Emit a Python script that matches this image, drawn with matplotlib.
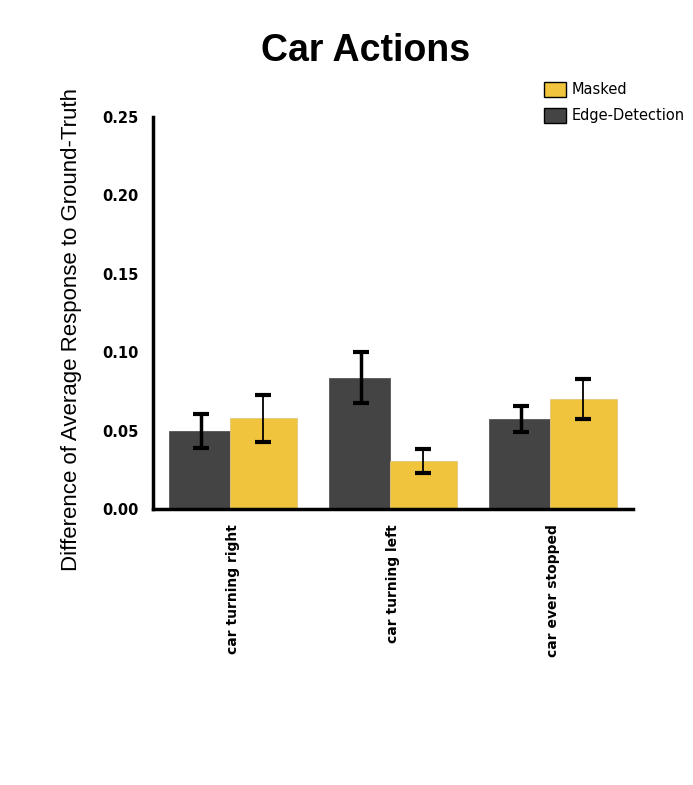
import matplotlib
matplotlib.use("Agg")
import matplotlib.pyplot as plt
from matplotlib.patches import Patch

categories = ["car turning right", "car turning left", "car ever stopped"]
edge_vals = [0.0496, 0.0838, 0.0576]
edge_err = [0.011, 0.016, 0.0083]
masked_vals = [0.058, 0.0304, 0.0702]
masked_err = [0.015, 0.0076, 0.0125]
yticks = [0.00, 0.05, 0.10, 0.15, 0.20, 0.25]

DARK = "#444444"
YELLOW = "#F0C43C"

fig = plt.figure(figsize=(6.93, 7.85), dpi=100)
ax = fig.add_axes([0.2208, 0.3516, 0.6926, 0.4994])

x = list(range(len(categories)))
ax.bar([i - 0.4 for i in x], edge_vals, width=0.38, align="edge",
       color=DARK, edgecolor="#555555", linewidth=0.6, zorder=2)
ax.bar([i - 0.02 for i in x], masked_vals, width=0.42, align="edge",
       color=YELLOW, edgecolor="#E2C77A", linewidth=0.6, zorder=2)

ax.errorbar([i - 0.2 for i in x], edge_vals, yerr=edge_err, fmt="none",
            ecolor="black", elinewidth=2.5, capsize=5.6, capthick=3, zorder=3)
ax.errorbar([i + 0.19 for i in x], masked_vals, yerr=masked_err, fmt="none",
            ecolor="black", elinewidth=1.3, capsize=5.6, capthick=3, zorder=3)

ax.set_xlim(-0.5, 2.5)
ax.set_ylim(0, 0.25)
ax.set_yticks(yticks)
ax.set_yticklabels([f"{v:.2f}" for v in yticks], fontsize=10.5,
                   fontweight="bold")
ax.set_xticks(x)
ax.set_xticklabels(categories, rotation=90, fontsize=10,
                   fontweight="bold", va="top")
ax.tick_params(axis="y", length=0, pad=10.5)
ax.tick_params(axis="x", length=0, pad=11)

for s in ["top", "right"]:
    ax.spines[s].set_visible(False)
ax.spines["left"].set_linewidth(2.5)
ax.spines["bottom"].set_linewidth(2.5)

ax.set_ylabel("Difference of Average Response to Ground-Truth",
              fontsize=16, family="Liberation Sans")
ax.yaxis.set_label_coords(-0.148, 0.457)

fig.text(0.527, 0.935, "Car Actions", ha="center", va="center",
         fontsize=27, fontweight="bold", family="Liberation Sans")

handles = [Patch(facecolor=YELLOW, edgecolor="black", label="Masked"),
           Patch(facecolor=DARK, edgecolor="black", label="Edge-Detection")]
fig.legend(handles=handles, loc="upper left", bbox_to_anchor=(0.776, 0.903),
           frameon=False, fontsize=10.5, handlelength=1.55, handleheight=1.2,
           handletextpad=0.35, labelspacing=0.7, borderaxespad=0)

fig.savefig("out.png", dpi=100)
